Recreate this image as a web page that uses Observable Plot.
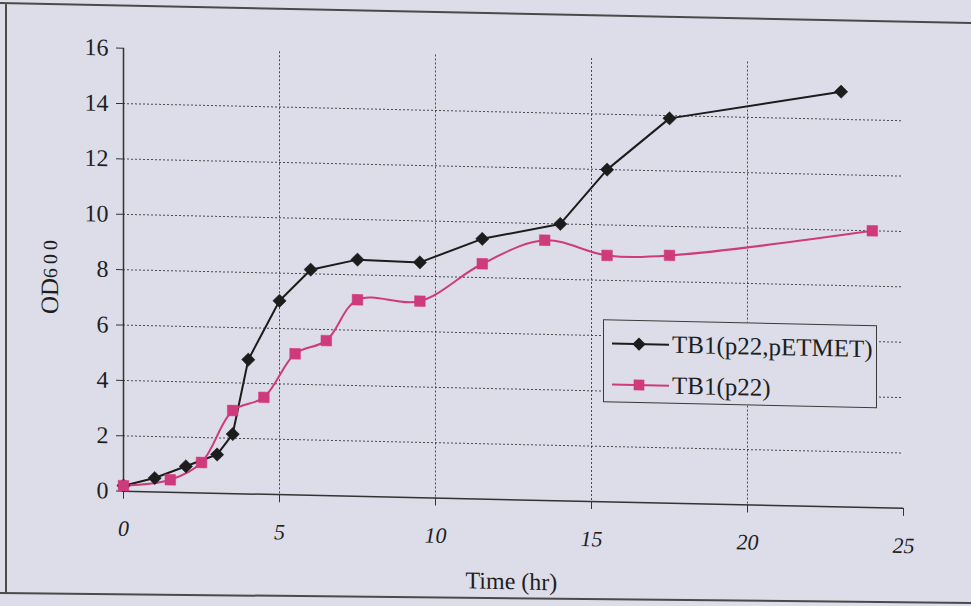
<!DOCTYPE html>
<html>
<head>
<meta charset="utf-8">
<script src="https://cdn.jsdelivr.net/npm/d3@7"></script>
<script src="https://cdn.jsdelivr.net/npm/@observablehq/plot@0.6"></script>
<style>
  html, body { margin: 0; padding: 0; background: #dcdde8; }
  #page { position: relative; width: 971px; height: 606px; overflow: hidden; background: #dcdde8; }
  #wrap { position: absolute; left: 0; top: 0; width: 971px; height: 606px;
          transform-origin: 0 0; transform: skewY(1.26deg); }
  #chart { position: absolute; left: 0; top: 0; }
  #frame { position: absolute; left: 0; top: 0; pointer-events: none; }
  #legend { position: absolute; left: 603px; top: 306px; width: 272px; height: 81px;
            border: 1.5px solid #3a3a3a; background: #dcdde8;
            font-family: "Liberation Serif", "Times New Roman", serif; font-size: 25px; color: #1e1e1e; }
  .row { position: absolute; left: 0; height: 30px; display: flex; align-items: center; }
  .row svg { width: 68px; height: 30px; display: block; }
  .row span { margin-left: 0px; white-space: nowrap; }
</style>
</head>
<body>
<div id="page">
  <div id="wrap">
    <div id="chart"></div>
    <div id="legend"></div>
  </div>
  <svg id="frame" width="971" height="606"></svg>
</div>
<script>
// ---- data ----
const seriesNames = ["TB1(p22,pETMET)", "TB1(p22)"];
const seriesColors = ["#1c1c1c", "#cf3a7c"];
const seriesSymbols = ["diamond2", "square"];

const timeA = [0, 1, 2, 3, 3.5, 4, 5, 6, 7.5, 9.5, 11.5, 14, 15.5, 17.5, 23];
const odA   = [0.2, 0.5, 0.95, 1.4, 2.15, 4.85, 7.0, 8.15, 8.55, 8.5, 9.4, 10.0, 12.0, 13.9, 15.0];

const timeB = [0, 1.5, 2.5, 3.5, 4.5, 5.5, 6.5, 7.5, 9.5, 11.5, 13.5, 15.5, 17.5, 24];
const odB   = [0.2, 0.45, 1.1, 3.0, 3.5, 5.1, 5.6, 7.1, 7.1, 8.5, 9.4, 8.9, 8.95, 10.0];

const xTicks = [0, 5, 10, 15, 20, 25];
const yTicks = [0, 2, 4, 6, 8, 10, 12, 14, 16];
const xLabel = "Time (hr)";
const yLabelMain = "OD";
const yLabelSub = "600";

const dataA = timeA.map((t, i) => ({series: seriesNames[0], time: t, od: odA[i]}));
const dataB = timeB.map((t, i) => ({series: seriesNames[1], time: t, od: odB[i]}));
const data = [...dataA, ...dataB];

const serif = "'Liberation Serif', 'Times New Roman', serif";
const gridStyle = {stroke: "#3a3a3a", strokeOpacity: 0.9, strokeWidth: 1, strokeDasharray: "2,2"};

const plot = Plot.plot({
  width: 971,
  height: 606,
  marginLeft: 123,
  marginRight: 68,
  marginTop: 45,
  marginBottom: 118,
  style: {background: "transparent", fontFamily: serif, fontSize: "22px", color: "#1e1e1e", overflow: "visible"},
  x: {domain: [0, 25]},
  y: {domain: [0, 16]},
  color: {domain: seriesNames, range: seriesColors},
  symbol: {domain: seriesNames, range: seriesSymbols},
  marks: [
    Plot.gridY(yTicks.filter(v => v > 0 && v < 16), gridStyle),
    Plot.gridX(xTicks.filter(v => v > 0 && v < 25), gridStyle),
    Plot.ruleX([0], {stroke: "#333", strokeWidth: 1.5}),
    Plot.ruleY([0], {stroke: "#333", strokeWidth: 1.5}),
    Plot.axisY(yTicks, {tickSize: 7, tickPadding: 8, fontSize: 24, label: null, stroke: "#333"}),
    Plot.axisX(xTicks, {tickSize: 8, tickPadding: 21, fontSize: 22, fontStyle: "italic", label: null, stroke: "#333"}),
    Plot.line(dataA, {x: "time", y: "od", stroke: "series", strokeWidth: 2}),
    Plot.line(dataB, {x: "time", y: "od", stroke: "series", curve: "catmull-rom", strokeWidth: 2}),
    Plot.dot(data, {x: "time", y: "od", symbol: "series", fill: "series", stroke: "series", strokeWidth: 0.5, r: 6})
  ]
});

document.getElementById("chart").appendChild(plot);

const svg = d3.select(plot);
const xs = plot.scale("x");

// x-axis title (upright)
svg.append("text")
  .attr("x", xs.apply(12.45))
  .attr("y", 578)
  .attr("text-anchor", "middle")
  .attr("fill", "#1e1e1e")
  .attr("font-size", 24)
  .style("font-family", serif)
  .text(xLabel);

// y-axis title with smaller digits
const yl = svg.append("text")
  .attr("transform", "translate(52,274) rotate(-90)")
  .attr("text-anchor", "middle")
  .attr("dominant-baseline", "middle")
  .attr("fill", "#1e1e1e")
  .style("font-family", serif);
yl.append("tspan").attr("font-size", 25).text(yLabelMain);
yl.append("tspan").attr("font-size", 20).attr("letter-spacing", 4).text(yLabelSub);

// legend
const legend = d3.select("#legend");
const rowTops = [8, 49];
seriesNames.forEach((name, i) => {
  const row = legend.append("div").attr("class", "row").style("top", rowTops[i] + "px");
  const s = row.append("svg");
  s.append("line").attr("x1", 8).attr("x2", 65).attr("y1", 15).attr("y2", 15)
    .attr("stroke", seriesColors[i]).attr("stroke-width", 2);
  const sym = seriesSymbols[i] === "diamond2" ? d3.symbolDiamond2 : d3.symbolSquare;
  s.append("path").attr("transform", "translate(35,15)")
    .attr("d", d3.symbol(sym, Math.PI * 36)())
    .attr("fill", seriesColors[i]);
  row.append("span").text(name);
});

// outer page frame of the photographed figure
const frame = d3.select("#frame");
frame.append("path")
  .attr("d", "M971,23 L0,3 M6,3 L6,594 M0,593 L971,603")
  .attr("fill", "none").attr("stroke", "#4a4a4a").attr("stroke-width", 2);
</script>
</body>
</html>
